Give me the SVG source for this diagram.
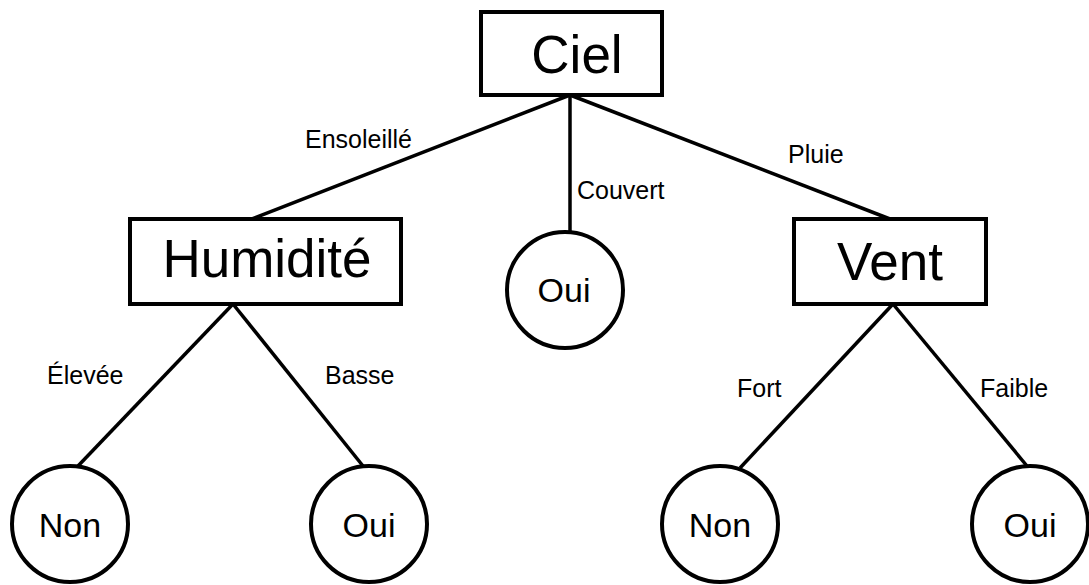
<svg xmlns="http://www.w3.org/2000/svg" width="1089" height="585" viewBox="0 0 1089 585">
  <style>
    .box { fill: #ffffff; stroke: #000000; stroke-width: 4; }
    .leaf { fill: #ffffff; stroke: #000000; stroke-width: 4; }
    .edge { stroke: #000000; stroke-width: 3.5; fill: none; }
    .big { font-family: "Liberation Sans", Arial, sans-serif; font-size: 53px; fill: #000; text-anchor: middle; }
    .leaf-label { font-family: "Liberation Sans", Arial, sans-serif; font-size: 34px; fill: #000; text-anchor: middle; }
    .edge-label { font-family: "Liberation Sans", Arial, sans-serif; font-size: 25px; fill: #000; }
  </style>
  <rect width="1089" height="585" fill="#ffffff"/>

  <!-- connectors -->
  <g id="connectors">
    <line class="edge" x1="570" y1="95" x2="252" y2="219"/>
    <line class="edge" x1="570" y1="95" x2="570" y2="232"/>
    <line class="edge" x1="570" y1="95" x2="890" y2="219"/>
    <line class="edge" x1="233" y1="304" x2="78" y2="466"/>
    <line class="edge" x1="233" y1="304" x2="363" y2="466"/>
    <line class="edge" x1="893" y1="304" x2="740" y2="468"/>
    <line class="edge" x1="893" y1="304" x2="1027" y2="466"/>
    <text class="edge-label" x="305" y="148">Ensoleillé</text>
    <text class="edge-label" x="577" y="199">Couvert</text>
    <text class="edge-label" x="788" y="163">Pluie</text>
    <text class="edge-label" x="47" y="384">Élevée</text>
    <text class="edge-label" x="325" y="384">Basse</text>
    <text class="edge-label" x="737" y="397">Fort</text>
    <text class="edge-label" x="980" y="397">Faible</text>
  </g>

  <g id="node-ciel">
    <rect class="box" x="481" y="12" width="181" height="83"/>
    <text class="big" x="577" y="73">Ciel</text>
  </g>
  <g id="node-humidite">
    <rect class="box" x="130" y="219" width="271" height="85"/>
    <text class="big" x="267" y="277">Humidité</text>
  </g>
  <g id="node-vent">
    <rect class="box" x="794" y="219" width="192" height="85"/>
    <text class="big" x="890" y="280">Vent</text>
  </g>
  <g id="leaf-couvert-oui">
    <circle class="leaf" cx="565" cy="290" r="58"/>
    <text class="leaf-label" x="564" y="302">Oui</text>
  </g>
  <g id="leaf-elevee-non">
    <circle class="leaf" cx="70" cy="524" r="58"/>
    <text class="leaf-label" x="70" y="537">Non</text>
  </g>
  <g id="leaf-basse-oui">
    <circle class="leaf" cx="369" cy="524" r="58"/>
    <text class="leaf-label" x="369" y="537">Oui</text>
  </g>
  <g id="leaf-fort-non">
    <circle class="leaf" cx="720" cy="524" r="58"/>
    <text class="leaf-label" x="720" y="537">Non</text>
  </g>
  <g id="leaf-faible-oui">
    <circle class="leaf" cx="1030" cy="524" r="58"/>
    <text class="leaf-label" x="1030" y="537">Oui</text>
  </g>
</svg>
